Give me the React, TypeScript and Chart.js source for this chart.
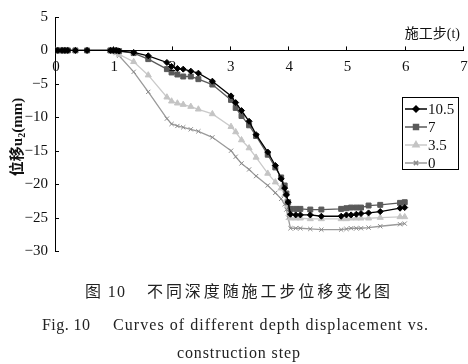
import React, { useEffect, useRef } from "react";
import { Chart, registerables } from "chart.js";
import { drawPoint } from "chart.js/helpers";
Chart.register(...registerables);

// construction step (t)
const steps = [
  0, 0.05, 0.12, 0.17, 0.22, 0.35, 0.55, 0.95, 1.0, 1.05, 1.1, 1.35, 1.6, 1.92, 2.0, 2.1, 2.2, 2.33, 2.46, 2.7,
  3.02, 3.1, 3.2, 3.33, 3.45, 3.65, 3.78, 3.88, 3.94, 3.97, 4.0, 4.04, 4.13, 4.21, 4.38, 4.57, 4.91, 5.0, 5.08,
  5.17, 5.25, 5.38, 5.58, 5.92, 6.0,
];
// displacement u2 (mm) for each depth
const depth105 = [
  0, 0, 0, 0, 0, 0, 0, 0, 0, 0, -0.1, -0.3, -0.8, -1.8, -2.4, -2.7, -2.8, -3.1, -3.4, -4.6,
  -6.8, -7.8, -9.0, -10.6, -12.6, -15.2, -17.2, -19.2, -20.6, -21.6, -22.7, -24.5, -24.6, -24.6, -24.6, -24.8, -24.8, -24.6, -24.6,
  -24.5, -24.4, -24.3, -24.1, -23.6, -23.5,
];
const depth7 = [
  0, 0, 0, 0, 0, 0, 0, 0, 0, 0, -0.1, -0.4, -1.3, -2.8, -3.3, -3.6, -3.9, -3.9, -4.3, -5.1,
  -7.4, -8.6, -9.8, -11.2, -12.8, -15.6, -17.5, -19.0, -20.2, -21.4, -22.7, -23.7, -23.7, -23.7, -23.8, -23.8, -23.7, -23.6, -23.5,
  -23.5, -23.5, -23.2, -23.1, -22.8, -22.7,
];
const depth35 = [
  0, 0, 0, 0, 0, 0, 0, 0, 0, -0.3, -0.6, -1.7, -3.7, -7.0, -7.6, -7.9, -8.1, -8.4, -8.8, -9.5,
  -11.4, -12.2, -13.4, -14.6, -16.0, -18.4, -19.7, -20.6, -21.6, -22.4, -23.2, -25.1, -25.1, -25.1, -25.2, -25.2, -25.2, -25.2, -25.1,
  -25.1, -25.1, -25.1, -25.0, -24.9, -24.9,
];
const depth0 = [
  0, 0, 0, 0, 0, 0, 0, 0, -0.1, -0.4, -0.8, -3.2, -6.2, -10.2, -11.0, -11.3, -11.5, -11.8, -12.1, -13.0,
  -15.0, -15.9, -16.9, -17.8, -18.8, -20.2, -21.3, -22.2, -23.0, -23.8, -25.0, -26.6, -26.6, -26.6, -26.7, -26.8, -26.8, -26.7, -26.6,
  -26.6, -26.6, -26.5, -26.3, -26.0, -25.9,
];
const seriesLabels = ["10.5", "7", "3.5", "0"];
const xTicks = [0, 1, 2, 3, 4, 5, 6, 7];
const yTicks = [5, 0, -5, -10, -15, -20, -25, -30];
const xTitle = "施工步(t)";
const yTitleParts = ["位移", "u", "2", "(mm)"];
const captionCnA = "图 10";
const captionCnB = "不同深度随施工步位移变化图";
const captionEnA = "Fig. 10";
const captionEnB = "Curves of different depth displacement vs.";
const captionEn2 = "construction step";

const SERIF = '"Liberation Serif", "DejaVu Serif", "Noto Sans CJK SC", serif';

function fitText(ctx: CanvasRenderingContext2D, text: string, x1: number, x2: number, y: number) {
  ctx.letterSpacing = "0px";
  const w = ctx.measureText(text).width;
  const n = Array.from(text).length;
  const sp = n > 1 ? (x2 - x1 - w) / (n - 1) : 0;
  ctx.letterSpacing = sp + "px";
  ctx.textAlign = "left";
  ctx.fillText(text, x1, y);
  ctx.letterSpacing = "0px";
}

const decorPlugin = {
  id: "decor",
  afterDraw(chart: any) {
    const ctx: CanvasRenderingContext2D = chart.ctx;
    const xs = chart.scales.x;
    const ys = chart.scales.y;
    const y0 = ys.getPixelForValue(0);
    const x0 = xs.getPixelForValue(0);
    ctx.save();
    ctx.strokeStyle = "#000";
    ctx.lineWidth = 1;
    // x axis line at y = 0
    ctx.beginPath();
    ctx.moveTo(x0, Math.round(y0) + 0.5);
    ctx.lineTo(xs.getPixelForValue(7) + 1, Math.round(y0) + 0.5);
    xTicks.forEach((v) => {
      if (v === 0) return;
      const px = Math.round(xs.getPixelForValue(v)) + 0.5;
      ctx.moveTo(px, y0);
      ctx.lineTo(px, y0 - 4);
    });
    yTicks.forEach((v) => {
      const py = Math.round(ys.getPixelForValue(v)) + 0.5;
      ctx.moveTo(x0, py);
      ctx.lineTo(x0 + 4, py);
    });
    ctx.stroke();

    // x tick labels
    ctx.fillStyle = "#111";
    ctx.font = "15px " + SERIF;
    ctx.textAlign = "center";
    ctx.textBaseline = "middle";
    xTicks.forEach((v) => {
      ctx.fillText(String(v), xs.getPixelForValue(v) + 1, y0 + 17);
    });

    // x title
    ctx.font = "14px " + SERIF;
    ctx.textAlign = "right";
    ctx.fillText(xTitle, 460, 34);

    // y title, rotated
    ctx.save();
    ctx.translate(17, 137);
    ctx.rotate(-Math.PI / 2);
    const fBig = "bold 15px " + SERIF;
    const fSmall = "bold 10px " + SERIF;
    ctx.font = fBig;
    const w1 = ctx.measureText(yTitleParts[0]).width;
    const w2 = ctx.measureText(yTitleParts[1]).width;
    const w4 = ctx.measureText(yTitleParts[3]).width;
    ctx.font = fSmall;
    const w3 = ctx.measureText(yTitleParts[2]).width;
    let cx = -(w1 + w2 + w3 + w4) / 2;
    ctx.textAlign = "left";
    ctx.textBaseline = "alphabetic";
    ctx.font = fBig;
    ctx.fillText(yTitleParts[0], cx, 5);
    cx += w1;
    ctx.fillText(yTitleParts[1], cx, 5);
    cx += w2;
    ctx.font = fSmall;
    ctx.fillText(yTitleParts[2], cx, 8);
    cx += w3;
    ctx.font = fBig;
    ctx.fillText(yTitleParts[3], cx, 5);
    ctx.restore();

    // legend
    ctx.strokeStyle = "#000";
    ctx.lineWidth = 1;
    ctx.strokeRect(402.5, 97.5, 56, 72);
    chart.data.datasets.forEach((ds: any, i: number) => {
      const ly = 109 + i * 18;
      ctx.strokeStyle = ds.borderColor;
      ctx.lineWidth = 1.5;
      ctx.beginPath();
      ctx.moveTo(405, ly);
      ctx.lineTo(427, ly);
      ctx.stroke();
      ctx.fillStyle = ds.pointBackgroundColor;
      ctx.strokeStyle = ds.pointBorderColor;
      drawPoint(ctx, { pointStyle: ds.pointStyle, radius: ds.pointRadius, rotation: 0, borderWidth: ds.pointBorderWidth }, 416, ly);
      ctx.fillStyle = "#111";
      ctx.font = "15px " + SERIF;
      ctx.textAlign = "left";
      ctx.textBaseline = "middle";
      ctx.fillText(ds.label, 428, ly + 1);
    });

    // captions
    ctx.fillStyle = "#222";
    ctx.textBaseline = "middle";
    ctx.font = "16px " + SERIF;
    fitText(ctx, captionCnA, 85, 125, 293);
    fitText(ctx, captionCnB, 147, 390, 293);
    fitText(ctx, captionEnA, 42, 90, 326);
    fitText(ctx, captionEnB, 113, 428, 326);
    fitText(ctx, captionEn2, 177, 300, 354);
    ctx.restore();
  },
};

function App() {
  const ref = useRef<HTMLCanvasElement>(null);
  useEffect(() => {
    document.body.style.margin = "0";
    const toPts = (vals: number[]) => steps.map((t, i) => ({ x: t, y: vals[i] }));
    const styles = [
      { c: "#000", pc: "#000", ps: "rectRot", r: 3 },
      { c: "#5a5a5a", pc: "#5a5a5a", ps: "rect", r: 3.5 },
      { c: "#cacaca", pc: "#c4c4c4", ps: "triangle", r: 3.5 },
      { c: "#9a9a9a", pc: "#8a8a8a", ps: "crossRot", r: 3 },
    ];
    const all = [depth105, depth7, depth35, depth0];
    const datasets = all.map((vals, i) => ({
      label: seriesLabels[i],
      data: toPts(vals),
      borderColor: styles[i].c,
      backgroundColor: styles[i].pc,
      pointBackgroundColor: styles[i].pc,
      pointBorderColor: styles[i].pc,
      pointBorderWidth: 1,
      pointStyle: styles[i].ps,
      pointRadius: styles[i].r,
      borderWidth: 1.3,
      tension: 0,
      fill: false,
    }));
    const tickFont = { family: SERIF, size: 15 };
    const chart = new Chart(ref.current as HTMLCanvasElement, {
      type: "line",
      data: { datasets },
      options: {
        animation: false,
        responsive: false,
        devicePixelRatio: 1,
        layout: { padding: { top: 17, right: 3, bottom: 113, left: 0 } },
        plugins: { legend: { display: false }, tooltip: { enabled: false } },
        scales: {
          x: {
            type: "linear",
            min: 0,
            max: 7,
            position: "bottom",
            afterBuildTicks: (s: any) => {
              s.ticks = xTicks.map((v) => ({ value: v }));
            },
            afterFit: (s: any) => {
              s.height = 0;
              s.paddingLeft = 0;
              s.paddingRight = 0;
            },
            ticks: { display: false },
            grid: { display: false, drawTicks: false },
            border: { display: false },
          },
          y: {
            type: "linear",
            min: -30,
            max: 5,
            afterBuildTicks: (s: any) => {
              s.ticks = yTicks.map((v) => ({ value: v }));
            },
            afterFit: (s: any) => {
              s.width = 55;
            },
            ticks: {
              font: tickFont,
              color: "#111",
              padding: 7,
              autoSkip: false,
              callback: (v: any) => (Number(v) < 0 ? "\u2212" + Math.abs(Number(v)) : String(v)),
            },
            grid: { display: false, drawTicks: false },
            border: { display: true, color: "#000", width: 1 },
          },
        },
      } as any,
      plugins: [decorPlugin],
    });
    return () => chart.destroy();
  }, []);
  return <canvas ref={ref} width={468} height={364} style={{ display: "block", width: 468, height: 364 }} />;
}

export default App;
